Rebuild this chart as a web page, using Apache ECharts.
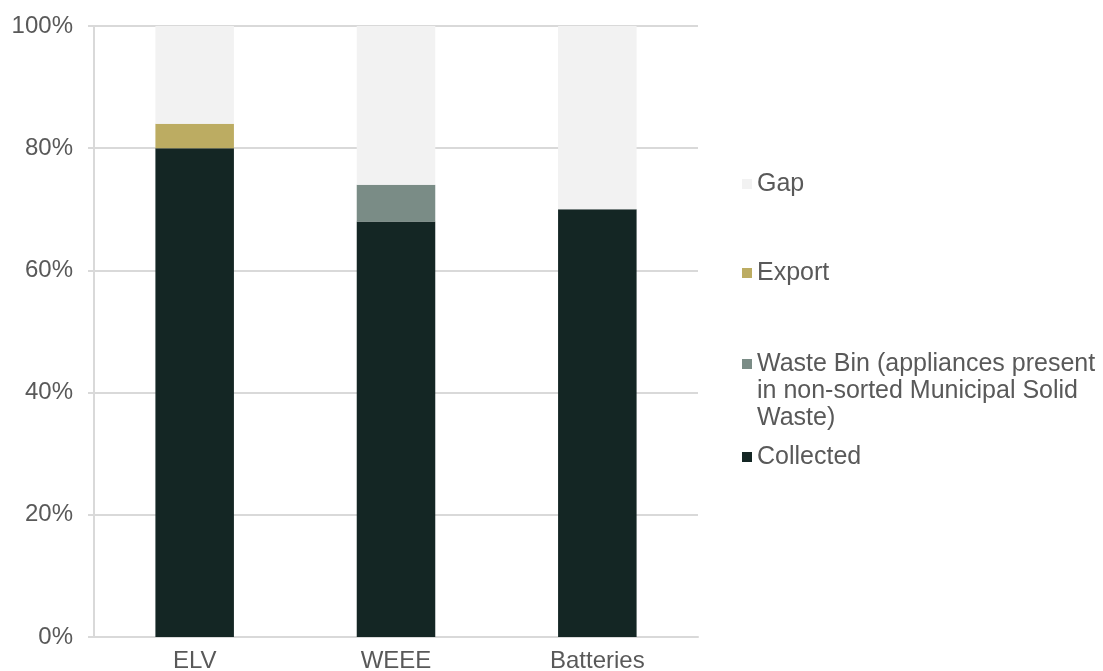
<!DOCTYPE html>
<html>
<head>
<meta charset="utf-8">
<script src="https://cdn.jsdelivr.net/npm/echarts@6/dist/echarts.min.js"></script>
<style>html,body{margin:0;padding:0;background:#fff}#c{width:1103px;height:671px}</style>
</head>
<body>
<div id="c"></div>
<script>
const categories = ['ELV', 'WEEE', 'Batteries'];
const collected = [80, 68, 70];
const wasteBin = [0, 6, 0];
const exportVals = [4, 0, 0];
const gap = [16, 26, 30];
const yTicks = [0, 20, 40, 60, 80, 100];

const WASTE = 'Waste Bin (appliances present in non-sorted Municipal Solid Waste)';
const FONT = '"Liberation Sans", Arial, Helvetica, sans-serif';
const TXT = '#595959';

const chart = echarts.init(document.getElementById('c'));
function leg(name, top, extra) {
  return Object.assign({
    orient: 'vertical', left: 742, top: top, padding: 0,
    itemWidth: 10, itemHeight: 10, itemGap: 0,
    icon: 'rect', selectedMode: false,
    data: [name],
    textStyle: { color: TXT, fontSize: 25, fontFamily: FONT, lineHeight: 27 }
  }, extra || {});
}
chart.setOption({
  animation: false,
  grid: { left: 94, right: 405, top: 26, bottom: 34, outerBoundsMode: 'none', containLabel: false },
  legend: [
    leg('Gap', 170.5),
    leg('Export', 259.5),
    leg(WASTE, 296.5, {
      formatter: () => '\n\nWaste Bin (appliances present\nin non-sorted Municipal Solid\nWaste)'
    }),
    leg('Collected', 443.5)
  ],
  xAxis: {
    type: 'category', data: categories,
    axisLine: { lineStyle: { color: '#d9d9d9', width: 2 } },
    axisTick: { show: false },
    axisLabel: { color: TXT, fontSize: 24, fontFamily: FONT, margin: 12 }
  },
  yAxis: {
    type: 'value', min: 0, max: 100, interval: 20,
    axisLine: { show: true, lineStyle: { color: '#d9d9d9', width: 2 } },
    axisTick: { show: true, length: 6, lineStyle: { color: '#d9d9d9', width: 2 } },
    splitLine: { lineStyle: { color: '#d9d9d9', width: 2 } },
    axisLabel: { color: TXT, fontSize: 24, fontFamily: FONT, margin: 21, formatter: '{value}%' }
  },
  series: [
    { name: 'Collected', type: 'bar', stack: 's', data: collected, barWidth: '39%', itemStyle: { color: '#142624' } },
    { name: WASTE, type: 'bar', stack: 's', data: wasteBin, itemStyle: { color: '#7a8c86' } },
    { name: 'Export', type: 'bar', stack: 's', data: exportVals, itemStyle: { color: '#bcac62' } },
    { name: 'Gap', type: 'bar', stack: 's', data: gap, itemStyle: { color: '#f2f2f2' } }
  ]
});
</script>
</body>
</html>
